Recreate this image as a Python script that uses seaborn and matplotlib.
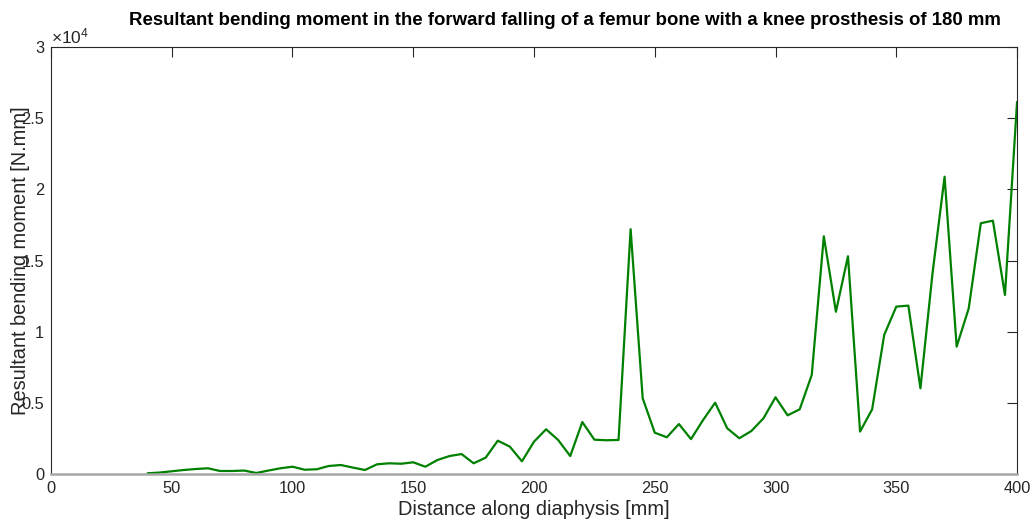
import numpy as np
import pandas as pd
import matplotlib
matplotlib.use("Agg")
import matplotlib.pyplot as plt
from matplotlib.ticker import FuncFormatter
import seaborn as sns

# ── Data ─────────────────────────────────────────────────────────────────────
distance_mm = list(range(40, 401, 5))
moment_nmm = [
    50, 100, 190, 280, 350, 400, 210, 210, 240, 70,
    240, 400, 510, 300, 330, 560, 630, 450, 280, 680,
    750, 720, 820, 510, 980, 1260, 1400, 750, 1150, 2340,
    1920, 890, 2270, 3140, 2390, 1260, 3650, 2410, 2370, 2390,
    17200, 5320, 2900, 2580, 3510, 2450, 3790, 5010, 3210, 2510,
    3020, 3910, 5390, 4120, 4540, 6960, 16700, 11400, 15300, 2980,
    4540, 9770, 11760, 11830, 6020, 14100, 20890, 8950, 11640, 17620,
    17800, 12580, 26140,
]

X_TICKS = list(range(0, 401, 50))
Y_TICKS = list(range(0, 30001, 5000))

TITLE  = "Resultant bending moment in the forward falling of a femur bone with a knee prosthesis of 180 mm"
XLABEL = "Distance along diaphysis [mm]"
YLABEL = "Resultant bending moment [N.mm]"

# ── Style ────────────────────────────────────────────────────────────────────
sns.set_style("white")
plt.rcParams["font.family"] = ["Liberation Sans", "DejaVu Sans"]
plt.rcParams["mathtext.fontset"] = "custom"
plt.rcParams["mathtext.rm"] = "Liberation Sans"
plt.rcParams["mathtext.it"] = "Liberation Sans"

AX_COL = "#262626"

df = pd.DataFrame({"distance": distance_mm, "moment": moment_nmm})

fig = plt.figure(figsize=(10.34, 5.26), dpi=100)
ax = fig.add_axes([0.0493, 0.0989, 0.9343, 0.8117])

sns.lineplot(data=df, x="distance", y="moment", ax=ax,
             color="#008000", linewidth=1.6)

ax.set_xlim(0, 400)
ax.set_ylim(0, 30000)
ax.set_xticks(X_TICKS)
ax.set_yticks(Y_TICKS)
ax.yaxis.set_major_formatter(FuncFormatter(lambda v, p: f"{v / 1e4:g}"))

# MATLAB-like box with inward ticks on all sides
for side, sp in ax.spines.items():
    sp.set_visible(True)
    sp.set_color(AX_COL)
    sp.set_linewidth(0.8)
ax.spines["bottom"].set_color("#a6a6a6")
ax.spines["bottom"].set_linewidth(1.8)
ax.tick_params(direction="in", length=7, width=0.8, color=AX_COL,
               labelcolor=AX_COL, labelsize=11.8,
               top=True, right=True, pad=5)

ax.text(0.0, 1.002, r"$\times10^{4}$", transform=ax.transAxes,
        ha="left", va="bottom", fontsize=12.5, color=AX_COL)

ax.set_title(TITLE, fontsize=13.4, fontweight="bold", color="black",
             pad=16, x=0.532)
ax.set_xlabel(XLABEL, fontsize=14.4, color=AX_COL, labelpad=3)
ax.set_ylabel(YLABEL, fontsize=14.4, color=AX_COL)
ax.yaxis.set_label_coords(-0.0215, 0.5)

fig.savefig("out.png", dpi=100)
